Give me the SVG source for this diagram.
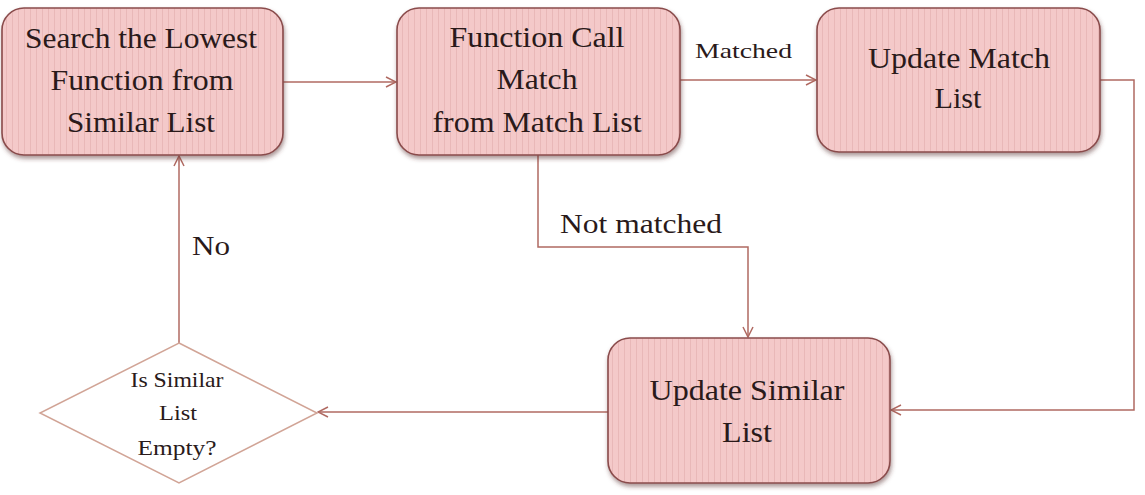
<svg xmlns="http://www.w3.org/2000/svg" width="1145" height="495" viewBox="0 0 1145 495">
<style>
.box{fill:url(#stripes);stroke:#8a4c4c;stroke-width:1.6;filter:url(#shadow)}
.t{font-family:"Liberation Serif","Times New Roman",serif;fill:#2a1a1a;text-anchor:middle}
.big{font-size:29px}
.sm{font-size:21px}
.lbl{font-family:"Liberation Serif","Times New Roman",serif;fill:#2a1a1a}
.con{fill:none;stroke:#b06a62;stroke-width:1.5}
.dia{fill:#ffffff;stroke:#d1a496;stroke-width:1.5}
</style>
<defs>
<pattern id="stripes" patternUnits="userSpaceOnUse" width="6" height="10">
<rect width="6" height="10" fill="#f4c9c9"/>
<rect x="0" width="1" height="10" fill="#e9b8b8"/>
</pattern>
<filter id="shadow" x="-10%" y="-10%" width="120%" height="130%">
<feDropShadow dx="1" dy="3" stdDeviation="2" flood-color="#5a3030" flood-opacity="0.5"/>
</filter>
<marker id="arr" markerWidth="12" markerHeight="12" refX="11" refY="6" orient="auto" markerUnits="userSpaceOnUse">
<path d="M1,1 L11,6 L1,11" fill="none" stroke="#b06a62" stroke-width="1.5"/>
</marker>
</defs>
<g id="connectors">
<line class="con" x1="283" y1="82" x2="396" y2="82" marker-end="url(#arr)"/>
<line class="con" x1="680" y1="80" x2="816" y2="80" marker-end="url(#arr)"/>
<polyline class="con" points="1100,80 1134,80 1134,410 891,410" marker-end="url(#arr)"/>
<polyline class="con" points="538,155 538,247 748,247 748,337" marker-end="url(#arr)"/>
<line class="con" x1="608" y1="412" x2="318" y2="412" marker-end="url(#arr)"/>
<line class="con" x1="179" y1="343" x2="179" y2="156" marker-end="url(#arr)"/>
<text class="lbl" x="695" y="58" font-size="22" textLength="97" lengthAdjust="spacingAndGlyphs">Matched</text>
<text class="lbl" x="560" y="233" font-size="27" textLength="162" lengthAdjust="spacingAndGlyphs">Not matched</text>
<text class="lbl" x="192" y="255" font-size="28" textLength="38" lengthAdjust="spacingAndGlyphs">No</text>
</g>
<g id="n1">
<rect class="box" x="2" y="8" width="281" height="147" rx="22"/>
<text class="t big" x="141" y="48" textLength="232" lengthAdjust="spacingAndGlyphs">Search the Lowest</text>
<text class="t big" x="142" y="90" textLength="183" lengthAdjust="spacingAndGlyphs">Function from</text>
<text class="t big" x="141" y="132" textLength="148" lengthAdjust="spacingAndGlyphs">Similar List</text>
</g>
<g id="n2">
<rect class="box" x="397" y="8" width="283" height="147" rx="22"/>
<text class="t big" x="537" y="47" textLength="175" lengthAdjust="spacingAndGlyphs">Function Call</text>
<text class="t big" x="537" y="89" textLength="81" lengthAdjust="spacingAndGlyphs">Match</text>
<text class="t big" x="537" y="132" textLength="209" lengthAdjust="spacingAndGlyphs">from Match List</text>
</g>
<g id="n3">
<rect class="box" x="817" y="8" width="283" height="144" rx="22"/>
<text class="t big" x="959" y="68" textLength="182" lengthAdjust="spacingAndGlyphs">Update Match</text>
<text class="t big" x="958" y="108" textLength="47" lengthAdjust="spacingAndGlyphs">List</text>
</g>
<g id="n4">
<rect class="box" x="608" y="338" width="282" height="145" rx="22"/>
<text class="t big" x="747" y="400" textLength="195" lengthAdjust="spacingAndGlyphs">Update Similar</text>
<text class="t big" x="747" y="442" textLength="50" lengthAdjust="spacingAndGlyphs">List</text>
</g>
<g id="n5">
<polygon class="dia" points="179,343 317,413 179,483 40,413"/>
<text class="t sm" x="177" y="387" textLength="93" lengthAdjust="spacingAndGlyphs">Is Similar</text>
<text class="t sm" x="178" y="420" textLength="38" lengthAdjust="spacingAndGlyphs">List</text>
<text class="t sm" x="177" y="455" textLength="79" lengthAdjust="spacingAndGlyphs">Empty?</text>
</g>
</svg>
